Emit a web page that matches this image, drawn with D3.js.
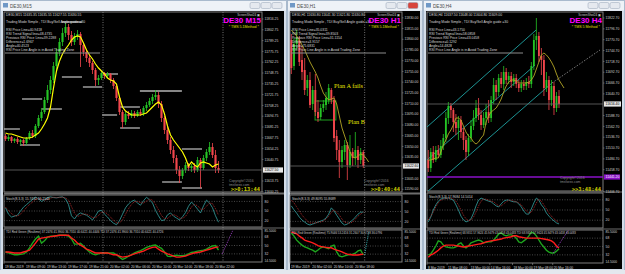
<!DOCTYPE html>
<html><head><meta charset="utf-8">
<script src="https://cdn.jsdelivr.net/npm/d3@7"></script>
<style>html,body{margin:0;padding:0;background:#d6dfe9;overflow:hidden}svg{display:block}</style>
</head><body><script>
// ================= DE30 M15 =================
const m15Open = [11670,11666.25,11668.75,11663.75,11666.25,11662.5,11665,11661.25,11667.5,11673.75,
11670,11682.5,11692.5,11700,11715,11727.5,11740,11757.5,11775,11787.5,
11798.75,11806.25,11796.25,11787.5,11795,11797.5,11783.75,11775,11767.5,11761.25,
11752.5,11740,11742.5,11748.75,11745,11747.5,11740,11732.5,11717.5,11700,
11687.5,11697.5,11695,11698.75,11695,11700,11697.5,11705,11708.75,11713.75,
11718.75,11721.25,11710,11692.5,11677.5,11665,11652.5,11642.5,11627.5,11620,
11627.5,11633.75,11630,11632.5,11627.5,11640,11630,11642.5,11650,11656.25,
11646.25,11630];
const m15High = [11672.5,11671.25,11670,11667.5,11668.75,11666.25,11666.25,11668.75,11676.25,11677.5,
11685,11696.25,11705,11718.75,11733.75,11745,11762.5,11780,11792.5,11805,
11811.25,11810,11801.25,11798.75,11802.5,11800,11786.25,11778.75,11771.25,11763.75,
11755,11746.25,11751.25,11750,11750,11748.75,11742.5,11733.75,11720,11702.5,
11700,11701.25,11702.5,11701.25,11702.5,11703.75,11707.5,11712.5,11717.5,11722.5,
11727.5,11725,11713.75,11695,11681.25,11668.75,11657.5,11646.25,11632.5,11630,
11637.5,11636.25,11635,11636.25,11643.75,11642.5,11646.25,11653.75,11662.5,11661.25,
11652.5,11638.75];
const m15Low = [11663.75,11663.75,11661.25,11661.25,11660,11658.75,11657.5,11658.75,11665,11667.5,
11667.5,11680,11688.75,11697.5,11711.25,11722.5,11736.25,11752.5,11770,11782.5,
11793.75,11790,11782.5,11783.75,11790,11756.25,11770,11762.5,11756.25,11747.5,
11732.5,11733.75,11740,11741.25,11742.5,11736.25,11728.75,11713.75,11696.25,11680,
11683.75,11691.25,11692.5,11692.5,11693.75,11695,11695,11701.25,11706.25,11710,
11715,11705,11687.5,11672.5,11660,11647.5,11636.25,11622.5,11611.25,11616.25,
11623.75,11626.25,11625,11623.75,11625,11605,11627.5,11638.75,11646.25,11642.5,
11623.75,11623.75];
const m15Close = [11666.25,11668.75,11663.75,11666.25,11662.5,11665,11661.25,11667.5,11673.75,11670,
11682.5,11692.5,11700,11715,11727.5,11740,11757.5,11775,11787.5,11798.75,
11806.25,11796.25,11787.5,11795,11797.5,11783.75,11775,11767.5,11761.25,11752.5,
11740,11742.5,11748.75,11745,11747.5,11740,11732.5,11717.5,11700,11687.5,
11697.5,11695,11698.75,11695,11700,11697.5,11705,11708.75,11713.75,11718.75,
11721.25,11710,11692.5,11677.5,11665,11652.5,11642.5,11627.5,11620,11627.5,
11633.75,11630,11632.5,11627.5,11640,11630,11642.5,11650,11656.25,11646.25,
11630,11627.5];
const m15MA = [11673.75,11672.5,11672.5,11671.25,11670,11668.75,11667.5,11667.5,11667.5,11668.75,
11671.25,11673.75,11678.75,11685,11692.5,11706.25,11730,11751.25,11763.75,11772.5,
11778.75,11783.75,11790,11793.75,11795,11793.75,11786.25,11777.5,11771.25,11766.25,
11760,11755,11751.25,11747.5,11742.5,11740,11738.75,11735,11718.75,11706.25,
11701.25,11698.75,11696.25,11696.25,11696.25,11696.25,11697.5,11698.75,11702.5,11706.25,
11710,11712.5,11708.75,11697.5,11682.5,11671.25,11665,11660,11655,11650,
11642.5,11632.5,11637.5,11633.75,11631.25,11636.25,11637.5,11636.25,11635,11631.25,
11633.75,11635];
const m15StochK = [60,40,31,34,37,50,62,70,78,86,93,88,80,85,92,94,92,91,93,94,88,70,35,25,38,44,40,37,30,22,35,50,52,40,31,20,12,7,20,40,60,72,80,84,75,68,82,93,85,75,52,35,20,22,38,44,34,28,22,32,45,65,78,68,56,44,66,84,75,60,35,15];
const m15StochD = [62,52,42,35,34,40,50,61,70,78,86,89,87,84,86,90,93,92,92,93,91,84,64,43,33,36,41,40,36,30,29,36,46,47,41,31,21,13,13,22,40,57,71,79,80,76,75,81,87,84,71,54,36,26,27,35,39,35,28,27,33,47,63,70,67,56,55,65,75,73,57,37];
const m15TdiGreen = [36,34,32,30,30,31,32,36,45,55,64,70,55,60,68,70,70,71,72,72,72,70,64,53,53,55,49,42,36,32,30,32,34,34,34,34,34,30,25,20,23,27,30,34,37,39,42,46,48,50,51,47,44,36,27,26,28,29,28,28,29,32,35,36,38,39,40,42,46,49,50,40];
const m15TdiRed = [36,36,35,34,34,34,36,38,40,47,55,64,66,67,68,69,70,71,72,72,72,72,66,62,55,51,47,42,40,37,34,34,34,34,34,32,30,30,27,25,26,27,30,32,34,36,38,41,44,46,47,42,38,35,32,30,27,25,25,26,27,30,32,34,35,36,38,40,42,44,46,47];
const m15PriceTicks = [11816.25,11802.75,11789.25,11775.75,11762.25,11748.75,11735.25,11721.75,11708.25,11694.75,11681.25,11667.75,11654.25,11640.75,11627.25,11613.75,11600.25];
const m15TimeLabels = ["19 Mar 2019","19 Mar 09:00","19 Mar 13:00","19 Mar 17:00","19 Mar 21:00","20 Mar 02:00","20 Mar 06:00","20 Mar 10:00","20 Mar 14:00","20 Mar 18:00","20 Mar 22:00"];
const m15TimeIdx = [0,7,14,21,28,35,42,49,56,63,70];
const m15SrFrom = [19.3,19.3,26.3,33,32.7,38.3,38.7,45.3,6,12.7,0,5.3,52.7,59.3,59.3];
const m15SrTo = [26,26,32.7,38,37.7,45.3,45.3,59.3,12.7,19.3,5.3,12,59.3,66,66];
const m15SrPrice = [11812.5,11743.75,11731.25,11747.5,11696.25,11706.25,11680,11726.25,11716.25,11703.75,11678.75,11658.75,11612.5,11605,11653.75];
const m15Info = ["DE30,M15  11635.35 11635.55 11627.55 11630.55","Trading Mode Simple , TDI Buy/Sell Angle guide =30","RSI Price Line=40.9418","RSI Trend Signal line=48.4735","Previous RSI Price Line=39.2288","Difference=1.6967","Angle=40.4523","RSI Price Line Angle is in Avoid Trading Zone"];

// ================= DE30 H1 =================
const h1Open = [11799,11762.6,11793.4,11799,11771,11757,11731.8,11743,11709.4,11729,11698.2,11691.2,11703.8,11708,11715,11729,11715,11664.6,11645,11628.2,11642.2,11652,11624,11642.2,11633.8,11645,11631,11642.2];
const h1High = [11807.4,11801.8,11813,11804.6,11790.6,11773.8,11750,11754.2,11734.6,11751.4,11715,11709.4,11715,11726.2,11737.4,11731.8,11720.6,11673,11659,11650.6,11659,11656.2,11666,11647.8,11670.2,11650.6,11647.8,11645];
const h1Low = [11751.4,11757,11785,11762.6,11743,11722,11720.6,11703.8,11701,11692.6,11684.2,11687,11698.2,11701,11709.4,11709.4,11656.2,11631,11605.8,11619.8,11631,11603,11619.8,11622.6,11624,11619.8,11625.4,11619.8];
const h1Close = [11759.8,11793.4,11801.8,11768.2,11754.2,11729,11743,11708,11729,11698.2,11689.8,11703.8,11709.4,11717.8,11731.8,11715,11661.8,11645,11628.2,11645,11652,11624,11642.2,11633.8,11645,11631,11642.2,11622.6];
const h1MA = [11813,11808.8,11804.6,11799,11792,11785,11776.6,11768.2,11761.2,11754.2,11745.8,11734.6,11724.8,11719.2,11715,11716.4,11717.8,11709.4,11692.6,11675.8,11664.6,11653.4,11642.2,11635.2,11633.8,11636.6,11639.4,11638,11633.8,11628.2];
const h1StochK = [67,55,45,33,24,18,12,9,12,15,18,21,24,30,42,61,52,39,27,15,9,12,18,24,33,42,48,48];
const h1StochD = [85,76,64,52,39,30,21,15,15,15,18,18,21,27,36,48,55,48,39,27,18,15,15,18,27,36,42,48];
const h1TdiGreen = [79,72,63,57,52,48,46,43,41,37,41,46,48,46,44,50,52,37,28,26,28,30,31,32,34,39,41,30];
const h1TdiRed = [81,79,77,72,68,63,61,59,57,54,51,49,48,47,46,46,43,41,39,37,34,32,31,30,30,30,31,32];
const h1PriceTicks = [11830,11815,11800,11785,11770,11755,11740,11725,11710,11695,11680,11665,11650,11635,11620,11605,11590];
const h1TimeLabels = ["19 Mar 2019","20 Mar 02:00","20 Mar 10:00","20 Mar 18:00"];
const h1TimeIdx = [0,8,16,24];
const h1NoteText = ["Plan A fails","Plan B"];
const h1NoteIdx = [16.5,21.75];
const h1NotePrice = [11731.8,11681.4];
const h1Info = ["DE30,H1  11630.80 11641.30 11621.80 11630.80","Trading Mode Simple , TDI Buy/Sell Angle guide =30","RSI Price Line=35.0311","RSI Trend Signal line=39.8503","Previous RSI Price Line=31.1154","Difference=3.9157","Angle=75.6831","RSI Price Line Angle is in Avoid Trading Zone"];

// ================= DE30 H4 =================
const h4Open = [11482,11462.8,11501.2,11482,11506,11494,11515.6,11534.8,11582.8,11611.6,11602,11573.2,11558.8,11578,11549.2,11530,11501.2,11534.8,11563.6,11582.8,11606.8,11590,11566,11582.8,11597.2,11582.8,11626,11662,11645.2,11678.8,11664.4,11693.2,11674,11683.6,11669.2,11678.8,11664.4,11654.8,11664.4,11659.6,11669.2,11664.4,11707.6,11770,11779.6,11731.6,11722,11654.8,11674,11626,11659.6,11606.8,11635.6];
const h4High = [11506,11510.8,11515.6,11515.6,11518,11530,11544.4,11597.2,11621.2,11618.8,11606.8,11592.4,11587.6,11587.6,11558.8,11539.6,11544.4,11578,11602,11626,11630.8,11602,11597.2,11616.4,11626,11635.6,11678.8,11674,11688.4,11693.2,11707.6,11702.8,11693.2,11693.2,11688.4,11688.4,11674,11674,11674,11678.8,11683.6,11717.2,11784.4,11822.8,11789.2,11750.8,11734,11693.2,11683.6,11674,11669.2,11645.2,11650];
const h4Low = [11453.2,11453.2,11474.8,11477.2,11486.8,11486.8,11506,11525.2,11568.4,11582.8,11549.2,11542,11530,11534.8,11506,11482,11491.6,11525.2,11554,11573.2,11578,11554,11558.8,11566,11570.8,11573.2,11616.4,11626,11635.6,11654.8,11650,11664.4,11664.4,11654.8,11659.6,11654.8,11645.2,11645.2,11650,11650,11654.8,11654.8,11698,11746,11717.2,11686,11635.6,11645.2,11602,11611.6,11590,11597.2,11606.8];
const h4Close = [11462.8,11501.2,11482,11506,11494,11515.6,11534.8,11582.8,11611.6,11602,11573.2,11558.8,11578,11549.2,11530,11501.2,11534.8,11563.6,11582.8,11606.8,11590,11566,11582.8,11597.2,11582.8,11626,11662,11645.2,11678.8,11664.4,11693.2,11674,11683.6,11669.2,11678.8,11664.4,11654.8,11664.4,11659.6,11669.2,11664.4,11707.6,11770,11779.6,11731.6,11722,11654.8,11674,11626,11659.6,11606.8,11635.6,11616.4];
const h4MA = [11482,11482,11484.4,11486.8,11486.8,11501.2,11518,11530,11544.4,11554,11566,11582.8,11582.8,11578,11563.6,11549.2,11539.6,11534.8,11525.2,11520.4,11525.2,11534.8,11542,11573.2,11587.6,11597.2,11602,11606.8,11616.4,11628.4,11645.2,11659.6,11669.2,11674,11674,11671.6,11666.8,11666.8,11666.8,11666.8,11669.2,11674,11683.6,11700.4,11717.2,11734,11738.8,11734,11726.8,11717.2,11705.2,11688.4,11674,11664.4,11654.8];
const h4StochK = [15,29,50,65,76,82,85,85,85,82,79,65,50,32,21,15,18,24,41,62,79,85,82,79,76,74,68,62,59,68,76,79,79,76,74,74,68,59,47,38,38,53,71,85,79,65,56,41,32,24,18,12,9];
const h4StochD = [21,32,44,59,71,79,82,85,85,85,82,76,65,50,35,24,18,21,29,44,62,76,82,82,79,76,74,68,62,62,68,74,79,79,76,74,71,65,56,47,41,44,56,71,82,76,65,53,41,32,24,18,12];
const h4TdiGreen = [32,34,42,51,62,60,53,49,48,47,47,49,55,58,51,47,51,58,60,62,64,62,58,59,60,60,64,70,77,79,75,73,75,75,73,68,60,58,62,66,73,81,79,73,64,55,49,42,38,36,36,40,45];
const h4TdiRed = [27,32,34,38,42,47,51,53,53,53,53,52,51,50,49,50,51,52,53,54,55,56,58,60,61,62,63,64,65,66,68,69,70,71,73,73,71,70,69,68,68,68,68,68,68,67,66,65,64,62,58,51,47];
const h4PriceTicks = [11822.7,11796.7,11770.7,11744.7,11718.7,11692.7,11666.7,11640.7,11614.7,11588.7,11562.7,11536.7,11510.7,11484.7,11458.7,11432.7,11406.7];
const h4TimeLabels = ["8 Mar 2019","11 Mar 08:00","13 Mar 00:00","14 Mar 16:00","18 Mar 00:00","19 Mar 08:00","20 Mar 16:00"];
const h4TimeIdx = [0,8,17,25,34,42,50];
const h4ChanFromIdx = [-0.5,-0.5,-0.5];
const h4ChanFromPrice = [11561.2,11482,11405.2];
const h4ChanToIdx = [42.9,42.5,49.2];
const h4ChanToPrice = [11794,11710,11666.8];
const h4RayIdx = [49.2,68.3];
const h4RayPrice = [11666.8,11746];
const h4PurpleLevel = 11441.2;
const h4Info = ["DE30,H4  11637.50 11648.00 11604.80 11609.00","Trading Mode Simple , TDI Buy/Sell Angle guide =30","RSI Price Line=43.1750","RSI Trend Signal line=58.0858","Previous RSI Price Line=43.0458","Difference=0.1292","Angle=14.4828","RSI Price Line Angle is in Avoid Trading Zone"];

// ================= drawing =================
const BULL = "#25c425", BEAR = "#f2464c";
const svg = d3.select("body").append("svg").attr("width",625).attr("height",274)
  .style("font-family","'Liberation Sans', Arial, sans-serif");
svg.append("rect").attr("width",625).attr("height",274).attr("fill","#d6dfe9");
const defs = svg.append("defs");

function drawChart(c) {
  const g = svg.append("g");
  g.append("rect").attr("x",c.fx+0.5).attr("y",0.5).attr("width",c.fw-1).attr("height",271)
    .attr("fill","#d3dde9").attr("stroke","#9fb1c6").attr("stroke-width",0.8);
  g.append("rect").attr("x",c.fx+1).attr("y",1).attr("width",c.fw-2).attr("height",9.5).attr("fill","#eef2f7");
  g.append("rect").attr("x",c.fx+3).attr("y",3).attr("width",5).attr("height",4.5).attr("fill","#6f98c6");
  g.append("text").attr("x",c.fx+10).attr("y",7.6).attr("font-size",4.6).attr("fill","#4a4a4a").text(c.title);
  const bx = c.fx + c.fw - 37;
  [0,1,2].forEach(k => {
    g.append("rect").attr("x",bx+k*11).attr("y",2.5).attr("width",10).attr("height",6).attr("rx",1.5)
      .attr("fill", (k===2 && c.active) ? "#d8453c" : "#e5e9ef").attr("stroke","#94a3b5").attr("stroke-width",0.5);
  });
  g.append("rect").attr("x",c.bx0).attr("y",11).attr("width",c.bx1-c.bx0).attr("height",258).attr("fill","#000");

  const xl = d3.scaleLinear().domain([0,c.slots]).range([c.px0,c.px1]);
  const xb = d3.scaleBand().domain(d3.range(c.slots)).range([c.px0,c.px1]);
  const cx = i => xl(i+0.5);
  const y = d3.scaleLinear().domain(c.priceDomain).range([c.main[1],c.main[0]]);
  const ys = d3.scaleLinear().domain([0,100]).range(c.stochMap);
  const yt = d3.scaleLinear().domain([14.5,85.5]).range(c.tdiMap);

  const panes = {main:c.main, stoch:c.stoch, tdi:c.tdi};
  Object.keys(panes).forEach(k => {
    defs.append("clipPath").attr("id",`clip-${c.key}-${k}`).append("rect")
      .attr("x",c.px0).attr("y",panes[k][0]).attr("width",c.px1-c.px0).attr("height",panes[k][1]-panes[k][0]);
  });
  Object.keys(panes).forEach(k => {
    g.append("rect").attr("x",c.px0).attr("y",panes[k][0]).attr("width",c.px1-c.px0).attr("height",panes[k][1]-panes[k][0])
      .attr("fill","none").attr("stroke","#8a8a8a").attr("stroke-width",0.9);
  });
  g.append("rect").attr("x",c.px0).attr("y",c.main[1]+0.5).attr("width",c.bx1-c.px0).attr("height",c.stoch[0]-c.main[1]-1).attr("fill","#6d6d6d");
  g.append("rect").attr("x",c.px0).attr("y",c.stoch[1]+0.5).attr("width",c.bx1-c.px0).attr("height",Math.max(1,c.tdi[0]-c.stoch[1]-1)).attr("fill","#6d6d6d");

  const mg = g.append("g").attr("clip-path",`url(#clip-${c.key}-main)`);
  const sg = g.append("g").attr("clip-path",`url(#clip-${c.key}-stoch)`);
  const tg = g.append("g").attr("clip-path",`url(#clip-${c.key}-tdi)`);

  const infoY = [15.5,23,31,35,39,43,46.8,50.6];
  c.info.forEach((t,k) => g.append("text").attr("x",c.px0+2).attr("y",infoY[k]).attr("font-size",3.4).attr("fill","#d8d8d8").text(t));
  g.append("line").attr("x1",c.px0+1).attr("x2",c.px0+c.ulen).attr("y1",53).attr("y2",53).attr("stroke","#8c8c8c").attr("stroke-width",1.2);

  if (c.extraBehind) c.extraBehind(mg, xl, y, cx);

  const n = c.close.length;
  const bw = Math.max(1, xb.bandwidth()*0.72);
  const cd = d3.range(n).map(i => ({i, o:c.open[i], h:c.high[i], l:c.low[i], c:c.close[i]}));
  mg.selectAll(".wick").data(cd).join("line")
    .attr("x1",d=>cx(d.i)).attr("x2",d=>cx(d.i)).attr("y1",d=>y(d.h)).attr("y2",d=>y(d.l))
    .attr("stroke",d=>d.c>=d.o?BULL:BEAR).attr("stroke-width",0.8);
  mg.selectAll(".body").data(cd).join("rect")
    .attr("x",d=>cx(d.i)-bw/2).attr("width",bw)
    .attr("y",d=>y(Math.max(d.o,d.c))).attr("height",d=>Math.max(0.8,Math.abs(y(d.o)-y(d.c))))
    .attr("fill",d=>d.c>=d.o?BULL:BEAR);
  mg.append("path").datum(c.ma).attr("fill","none").attr("stroke",c.maColor).attr("stroke-width",c.maWidth)
    .attr("d",d3.line().x((d,i)=>cx(i)).y(d=>y(d)));
  if (c.extraFront) c.extraFront(mg, xl, y, cx, g);

  const bid = c.close[n-1];
  mg.append("line").attr("x1",c.px0).attr("x2",c.px1).attr("y1",y(bid)).attr("y2",y(bid)).attr("stroke","#6a6a6a").attr("stroke-width",0.8);
  c.priceTicks.forEach(p => {
    if (Math.abs(y(p)-y(bid)) < 4.5) return;
    if (c.avoid && Math.abs(y(p)-y(c.avoid)) < 4.5) return;
    g.append("line").attr("x1",c.px1).attr("x2",c.px1+1.5).attr("y1",y(p)).attr("y2",y(p)).attr("stroke","#9a9a9a").attr("stroke-width",0.5);
    g.append("text").attr("x",c.px1+2.5).attr("y",y(p)+1.2).attr("font-size",3.4).attr("fill","#d0d0d0").text(p.toFixed(2));
  });
  g.append("rect").attr("x",c.px1+1).attr("y",y(bid)-2.6).attr("width",c.bx1-c.px1-2).attr("height",5.2).attr("fill","#e6e6e6");
  g.append("text").attr("x",c.px1+2.5).attr("y",y(bid)+1.2).attr("font-size",3.4).attr("fill","#000").text(bid.toFixed(2));

  g.append("text").attr("x",c.px1-2).attr("y",15.5).attr("text-anchor","end").attr("font-size",3).attr("fill","#c8c8c8").text("ScreenShot24 \u25A3");
  g.append("text").attr("x",c.px1-1).attr("y",23).attr("text-anchor","end").attr("font-size",8).attr("font-weight","bold").attr("fill","#ff00ff").text(c.big);
  g.append("text").attr("x",c.px1-3).attr("y",28).attr("text-anchor","end").attr("font-size",3.6).attr("fill","#e0e000").text(c.method);
  g.append("text").attr("x",c.copyX).attr("y",c.copyY).attr("font-size",3.4).attr("fill","#8a8a8a").text("Copyright\u00A92016");
  g.append("text").attr("x",c.copyX).attr("y",c.copyY+4).attr("font-size",3.4).attr("fill","#8a8a8a").text("tmsforex.com");
  g.append("text").attr("x",c.px1-2).attr("y",c.timerY).attr("text-anchor","end").attr("font-size",5.4).attr("font-weight","bold")
    .attr("font-family","'DejaVu Sans Mono', monospace").attr("fill","#c8c800").text(c.timer);

  [80,50,20].forEach(v => {
    sg.append("line").attr("x1",c.px0).attr("x2",c.px1).attr("y1",ys(v)).attr("y2",ys(v)).attr("stroke","#777").attr("stroke-width",0.6).attr("stroke-dasharray","1,1.5");
    g.append("text").attr("x",c.px1+2.5).attr("y",ys(v)+1.2).attr("font-size",3.4).attr("fill","#d0d0d0").text(v);
  });
  sg.append("path").datum(c.stochK).attr("fill","none").attr("stroke","#2f9090").attr("stroke-width",0.9)
    .attr("d",d3.line().x((d,i)=>cx(i)).y(d=>ys(d)));
  sg.append("path").datum(c.stochD).attr("fill","none").attr("stroke","#b02a2a").attr("stroke-width",0.9).attr("stroke-dasharray","1,1")
    .attr("d",d3.line().x((d,i)=>cx(i)).y(d=>ys(d)));
  g.append("text").attr("x",c.px0+2).attr("y",c.stoch[0]+4.5).attr("font-size",3.3).attr("fill","#cfcfcf").text(c.stochTitle);

  [68,50,32].forEach(v => {
    tg.append("line").attr("x1",c.px0).attr("x2",c.px1).attr("y1",yt(v)).attr("y2",yt(v)).attr("stroke","#777").attr("stroke-width",0.6).attr("stroke-dasharray","1,1.5");
    g.append("text").attr("x",c.px1+2.5).attr("y",yt(v)+1.2).attr("font-size",3.4).attr("fill","#d0d0d0").text(v);
  });
  g.append("text").attr("x",c.px1+2.5).attr("y",c.tdi[0]+2.8).attr("font-size",3.2).attr("fill","#d0d0d0").text("85.5000");
  g.append("text").attr("x",c.px1+2.5).attr("y",c.tdi[1]).attr("font-size",3.2).attr("fill","#d0d0d0").text("14.5000");
  tg.append("path").datum(c.tdiGreen).attr("fill","none").attr("stroke","#1ea51e").attr("stroke-width",1.4)
    .attr("d",d3.line().x((d,i)=>cx(i)).y(d=>yt(d)));
  tg.append("path").datum(c.tdiRed).attr("fill","none").attr("stroke","#ff1c1c").attr("stroke-width",1.4)
    .attr("d",d3.line().x((d,i)=>cx(i)).y(d=>yt(d)));
  tg.append("path").datum(c.projIdx.map((v,k)=>[v,c.projVal[k]])).attr("fill","none").attr("stroke",c.projColor)
    .attr("stroke-width",0.9).attr("stroke-dasharray","1,1").attr("d",d3.line().x(d=>xl(d[0])).y(d=>yt(d[1])));
  g.append("text").attr("x",c.px0+2).attr("y",c.tdi[0]+3.8).attr("font-size",c.tdiTitleSize).attr("fill","#cfcfcf").text(c.tdiTitle);

  (c.vlines||[]).forEach(v => {
    g.append("line").attr("x1",xl(v)).attr("x2",xl(v)).attr("y1",c.main[0]).attr("y2",c.tdi[1])
      .attr("stroke","#a0a0a0").attr("stroke-width",0.7).attr("stroke-dasharray","1,1.5");
  });

  c.timeIdx.forEach((ti,k) => {
    g.append("line").attr("x1",xl(ti)).attr("x2",xl(ti)).attr("y1",c.tdi[1]).attr("y2",c.tdi[1]+2).attr("stroke","#aaa").attr("stroke-width",0.5);
    g.append("text").attr("x",xl(ti)+1).attr("y",c.tdi[1]+5.8).attr("font-size",3.3).attr("fill","#d8d8d8").text(c.timeLabels[k]);
  });
}

drawChart({key:"m15", title:"DE30,M15", fx:0, fw:287, bx0:3, bx1:284, px0:4, px1:262, slots:86, active:false,
  main:[12,192], stoch:[195,227], tdi:[229,262], stochMap:[227,195], tdiMap:[262,229],
  priceDomain:[11600,11825], open:m15Open, high:m15High, low:m15Low, close:m15Close, ma:m15MA,
  maColor:"#ffff00", maWidth:1.2, stochK:m15StochK, stochD:m15StochD, tdiGreen:m15TdiGreen, tdiRed:m15TdiRed,
  priceTicks:m15PriceTicks, timeLabels:m15TimeLabels, timeIdx:m15TimeIdx, info:m15Info, ulen:96,
  big:"DE30 M15", method:"* TMS 5.1Method *", timer:">>0:13:44", timerY:191, copyX:229, copyY:182,
  vlines:[33,73], projIdx:[72.7,76.3], projVal:[31.7,83], projColor:"#a040c8",
  stochTitle:"Stoch(8,3,3) 15.7431 16.2546",
  tdiTitle:"TDI Red Green (Realtime) 37.2476 41.9900 36.7310 40.6421 40.4446   TDI 37.2476 41.9900 36.7310 40.6421 40.4726",
  tdiTitleSize:3.0,
  extraBehind:(mg, xl, y) => {
    m15SrPrice.forEach((p,k) => mg.append("line").attr("x1",xl(m15SrFrom[k])).attr("x2",xl(m15SrTo[k]))
      .attr("y1",y(p)).attr("y2",y(p)).attr("stroke","#b4b4b4").attr("stroke-width",1.3));
  }
});

drawChart({key:"h1", title:"DE30,H1", fx:287, fw:136, bx0:290, bx1:420, px0:290, px1:402, slots:42, active:true,
  main:[12,192], stoch:[195,228], tdi:[230,262], stochMap:[228,195], tdiMap:[262,230],
  priceDomain:[11586.2,11838.2], open:h1Open, high:h1High, low:h1Low, close:h1Close, ma:h1MA,
  maColor:"#b3a626", maWidth:0.9, stochK:h1StochK, stochD:h1StochD, tdiGreen:h1TdiGreen, tdiRed:h1TdiRed,
  priceTicks:h1PriceTicks, timeLabels:h1TimeLabels, timeIdx:h1TimeIdx, info:h1Info, ulen:96,
  big:"DE30 H1", method:"* TMS 5.1Method *", timer:">>0:40:44", timerY:191, copyX:364, copyY:182,
  vlines:[28], projIdx:[28,29.5], projVal:[30,81], projColor:"#30b4b4",
  stochTitle:"Stoch(8,3,3) 49.8095 55.8689",
  tdiTitle:"TDI Red Green (Realtime) 75.9046 53.2416 31.2607 30.5728 36.0796",
  tdiTitleSize:2.9,
  extraBehind:(mg, xl, y) => {
    mg.append("rect").attr("x",xl(9.4)).attr("y",y(11713.6)).attr("width",xl(17.2)-xl(9.4)).attr("height",y(11687)-y(11713.6))
      .attr("fill","none").attr("stroke","#1fa01f").attr("stroke-width",1);
  },
  extraFront:(mg, xl, y) => {
    h1NoteText.forEach((t,k) => mg.append("text").attr("x",xl(h1NoteIdx[k])).attr("y",y(h1NotePrice[k]))
      .attr("font-family","'Liberation Serif', 'Times New Roman', serif").attr("font-size",6.3).attr("fill","#e6e600").text(t));
  }
});

drawChart({key:"h4", title:"DE30,H4", fx:423, fw:202, bx0:426, bx1:622, px0:427, px1:603, slots:70, active:false,
  main:[12,191], stoch:[193,228], tdi:[230,263], stochMap:[227,193], tdiMap:[263,230],
  priceDomain:[11407.6,11837.2], open:h4Open, high:h4High, low:h4Low, close:h4Close, ma:h4MA,
  maColor:"#b3a626", maWidth:0.9, stochK:h4StochK, stochD:h4StochD, tdiGreen:h4TdiGreen, tdiRed:h4TdiRed,
  priceTicks:h4PriceTicks, timeLabels:h4TimeLabels, timeIdx:h4TimeIdx, info:h4Info, ulen:96, avoid:h4PurpleLevel,
  big:"DE30 H4", method:"* TMS 5 Method *", timer:">>3:48:44", timerY:190.5, copyX:560, copyY:178.5,
  vlines:[], projIdx:[50.2,56.2], projVal:[36,85], projColor:"#a040c8",
  stochTitle:"Stoch(8,3,3) 17.9684 14.5014",
  tdiTitle:"TDI Red Green (Realtime) 68.9351 57.9624 45.9479 43.0458 43.0483  TDI 68.9351 57.9624 45.9479 43.0458 43.0483",
  tdiTitleSize:2.8,
  extraBehind:(mg, xl, y) => {
    h4ChanFromIdx.forEach((f,k) => mg.append("line").attr("x1",xl(f+0.5)).attr("x2",xl(h4ChanToIdx[k]+0.5))
      .attr("y1",y(h4ChanFromPrice[k])).attr("y2",y(h4ChanToPrice[k])).attr("stroke","#1fa3a3").attr("stroke-width",0.9));
    mg.append("line").attr("x1",xl(h4RayIdx[0]+0.5)).attr("x2",xl(h4RayIdx[1]+0.5)).attr("y1",y(h4RayPrice[0])).attr("y2",y(h4RayPrice[1]))
      .attr("stroke","#9a9a9a").attr("stroke-width",0.8).attr("stroke-dasharray","1.5,1.5");
  },
  extraFront:(mg, xl, y, cx, g) => {
    mg.append("line").attr("x1",427).attr("x2",603).attr("y1",y(h4PurpleLevel)).attr("y2",y(h4PurpleLevel)).attr("stroke","#8a10c8").attr("stroke-width",1.3);
    g.append("rect").attr("x",604).attr("y",y(h4PurpleLevel)-2.6).attr("width",16).attr("height",5.2).attr("fill","#8a10c8");
    g.append("text").attr("x",605.5).attr("y",y(h4PurpleLevel)+1.2).attr("font-size",3.4).attr("fill","#fff").text(h4PurpleLevel.toFixed(2));
  }
});
svg.append("rect").attr("x",0).attr("y",270).attr("width",625).attr("height",4).attr("fill","#e4e8ee");
</script></body></html>
